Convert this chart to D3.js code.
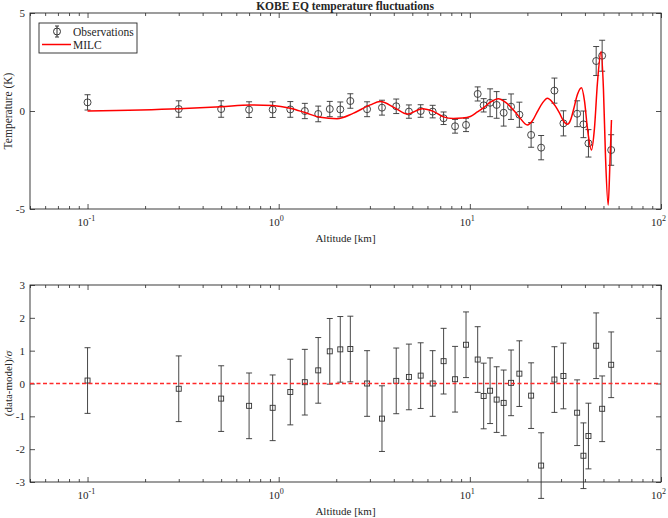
<!DOCTYPE html>
<html><head><meta charset="utf-8">
<script src="https://cdn.jsdelivr.net/npm/d3@7"></script>
<style>
body{margin:0;background:#fff}
svg{display:block}
text{font-family:"Liberation Serif","Times New Roman",serif;fill:#262626}
</style>
</head><body><svg id="c" width="668" height="518"></svg>
<script>
// ---- data ----
const altitudes = [0.1, 0.3, 0.5, 0.7, 0.93, 1.15, 1.37, 1.61, 1.85, 2.1, 2.37, 2.9, 3.47, 4.12, 4.8, 5.53, 6.39, 7.29, 8.37, 9.55, 10.99, 11.81, 12.76, 13.81, 15.03, 16.43, 18.16, 20.92, 23.6, 27.7, 30.87, 36.41, 39.29, 41.73, 45.8, 49.22, 54.87];
const temperature = [0.44, 0.10, 0.10, 0.07, 0.07, 0.08, 0.0, -0.15, 0.10, 0.08, 0.51, 0.09, 0.17, 0.24, -0.03, 0.0, -0.03, -0.37, -0.78, -0.71, 0.87, 0.29, 0.42, 0.31, -0.09, 0.22, -0.19, -1.22, -1.87, 1.04, -0.63, -0.14, -0.68, -1.65, 2.55, 2.82, -1.99];
const tempError = [0.39, 0.42, 0.42, 0.40, 0.40, 0.40, 0.39, 0.40, 0.39, 0.38, 0.37, 0.38, 0.38, 0.37, 0.34, 0.32, 0.32, 0.32, 0.35, 0.34, 0.36, 0.34, 0.71, 0.68, 0.68, 0.65, 0.64, 0.63, 0.62, 0.64, 0.64, 0.66, 0.68, 0.70, 0.74, 0.79, 0.78];
const residuals = [0.09, -0.16, -0.46, -0.68, -0.74, -0.26, 0.04, 0.40, 0.98, 1.04, 1.05, 0.0, -1.07, 0.08, 0.20, 0.24, 0.0, 0.68, 0.13, 1.18, 0.73, -0.38, -0.22, -0.49, -0.59, 0.02, 0.30, -0.37, -2.5, 0.12, 0.23, -0.89, -2.2, -1.6, 1.15, -0.77, 0.57];
const residualError = [1,1,1,1,1,1,1,1,1,1,1,1,1,1,1,1,1,1,1,1,1,1,1,1,1,1,1,1,1,1,1,1,1,1,1,1,1];
const modelAltitude = [0.1, 0.3, 0.5, 0.71, 0.93, 1.15, 1.37, 1.65, 2.02, 2.45, 3.01, 3.40, 4.07, 4.71, 5.64, 6.44, 7.27, 8.20, 9.14, 10.06, 10.95, 11.91, 12.80, 14.10, 15.34, 16.30, 17.95, 20.00, 21.25, 22.56, 23.96, 25.45, 27.04, 28.03, 29.42, 30.87, 32.39, 33.59, 34.83, 36.54, 38.35, 39.77, 41.23, 43.27, 44.85, 46.50, 48.63, 49.99, 51.22, 52.92, 54.08, 55.07];
const modelTemperature = [0.0, 0.12, 0.22, 0.31, 0.28, 0.14, -0.08, -0.32, -0.39, -0.12, 0.31, 0.48, 0.15, -0.15, 0.12, -0.02, -0.30, -0.38, -0.36, -0.28, -0.05, 0.20, 0.45, 0.63, 0.45, 0.22, -0.25, -0.71, -0.50, -0.03, 0.40, 0.65, 0.45, 0.25, -0.10, -0.50, -0.68, -0.48, 0.05, 0.84, 1.19, 0.53, -0.89, -1.99, -0.90, 1.43, 3.03, 1.12, -2.26, -4.80, -2.60, -0.46];
const xMajorTicks = [0.1, 1, 10, 100];
const xTickExponents = ["-1", "0", "1", "2"];
const yTopTicks = [-5, 0, 5];
const yBottomTicks = [-3, -2, -1, 0, 1, 2, 3];
const titleText = "KOBE EQ temperature fluctuations";
const xLabelText = "Altitude [km]";
const yTopLabelText = "Temperature (K)";
const legendLabels = ["Observations", "MILC"];

// ---- layout ----
const L = 30, R = 661;
const top1 = 13, bot1 = 209, top2 = 285, bot2 = 482;
const ink = "#262626", barCol = "#333";
const svg = d3.select("#c");

const x = d3.scaleLog().domain([0.05, 100]).range([L, R]);
const yT = d3.scaleLinear().domain([-5, 5]).range([bot1, top1]);
const yB = d3.scaleLinear().domain([-3, 3]).range([bot2, top2]);

const minorTicks = [];
[0.01, 0.1, 1, 10].forEach(p => { for (let d = 2; d <= 9; d++) { const v = d * p; if (v >= 0.05 && v < 100) minorTicks.push(+v.toPrecision(3)); } });

function frame(y, yTicks, yTop, yBot) {
  const g = svg.append("g");
  g.append("g").attr("transform", `translate(0,${yBot})`)
    .call(d3.axisBottom(x).tickValues(minorTicks).tickSize(-3).tickFormat(""));
  g.append("g").attr("transform", `translate(0,${yTop})`)
    .call(d3.axisTop(x).tickValues(minorTicks).tickSize(-3).tickFormat(""));
  const xb = g.append("g").attr("transform", `translate(0,${yBot})`)
    .call(d3.axisBottom(x).tickValues(xMajorTicks).tickSize(-5).tickFormat(""));
  xb.selectAll(".tick text").each(function(d, i) {
    const t = d3.select(this).attr("y", 9).attr("dy", "0.71em").attr("x", -10.5)
      .attr("text-anchor", "start").style("font-size", "11px");
    t.append("tspan").text("10");
    t.append("tspan").attr("dy", "-5").style("font-size", "8px").text(xTickExponents[i]);
  });
  g.append("g").attr("transform", `translate(0,${yTop})`)
    .call(d3.axisTop(x).tickValues(xMajorTicks).tickSize(-5).tickFormat(""));
  g.append("g").attr("transform", `translate(${L},0)`)
    .call(d3.axisLeft(y).tickValues(yTicks).tickSize(-5).tickPadding(5).tickFormat(d3.format("d")))
    .selectAll("text").style("font-size", "11px").text(d => String(d).replace("−", "-"));
  g.append("g").attr("transform", `translate(${R},0)`)
    .call(d3.axisRight(y).tickValues(yTicks).tickSize(-5).tickFormat(""));
  g.selectAll(".domain").remove();
  g.selectAll(".tick line").attr("stroke", ink).attr("stroke-width", 0.8);
  g.selectAll(".tick text").attr("fill", ink).style("font-family", '"Liberation Serif",serif');
  svg.append("rect").attr("x", L).attr("y", yTop).attr("width", R - L).attr("height", yBot - yTop)
    .attr("fill", "none").attr("stroke", ink).attr("stroke-width", 0.9);
  svg.append("text").attr("x", (L + R) / 2).attr("y", yBot + 33).attr("text-anchor", "middle")
    .style("font-size", "11px").text(xLabelText);
}

function errorbars(g, xs, ys, es, y) {
  const cap = 3;
  xs.forEach((a, i) => {
    const cx = x(a), y1 = y(ys[i] - es[i]), y2 = y(ys[i] + es[i]);
    g.append("line").attr("x1", cx).attr("x2", cx).attr("y1", y1).attr("y2", y2);
    g.append("line").attr("x1", cx - cap).attr("x2", cx + cap).attr("y1", y1).attr("y2", y1);
    g.append("line").attr("x1", cx - cap).attr("x2", cx + cap).attr("y1", y2).attr("y2", y2);
  });
  g.selectAll("line").attr("stroke", barCol).attr("stroke-width", 0.9);
}

// ---- top panel ----
frame(yT, yTopTicks, top1, bot1);
const gTop = svg.append("g");
errorbars(gTop.append("g"), altitudes, temperature, tempError, yT);
gTop.append("g").selectAll("circle").data(altitudes).join("circle")
  .attr("cx", d => x(d)).attr("cy", (d, i) => yT(temperature[i])).attr("r", 3.5)
  .attr("fill", "none").attr("stroke", barCol).attr("stroke-width", 0.9);
const modelData = modelAltitude.map((a, i) => [a, modelTemperature[i]]);
gTop.append("path").datum(modelData)
  .attr("d", d3.line().x(d => x(d[0])).y(d => yT(d[1])).curve(d3.curveMonotoneX))
  .attr("fill", "none").attr("stroke", "#ff0000").attr("stroke-width", 1.5);

svg.append("text").attr("x", 345).attr("y", 10).attr("text-anchor", "middle")
  .style("font-size", "11.5px").style("font-weight", "bold").attr("fill", "#000").text(titleText);
svg.append("text").attr("transform", `translate(12,${yT(0)}) rotate(-90)`).attr("text-anchor", "middle")
  .style("font-size", "11.5px").text(yTopLabelText);

// legend
const lg = svg.append("g");
lg.append("rect").attr("x", 39).attr("y", 23).attr("width", 98).attr("height", 30)
  .attr("fill", "#fff").attr("stroke", ink).attr("stroke-width", 0.9);
lg.append("line").attr("x1", 57).attr("x2", 57).attr("y1", 26).attr("y2", 37).attr("stroke", barCol);
lg.append("line").attr("x1", 55).attr("x2", 59).attr("y1", 26).attr("y2", 26).attr("stroke", barCol);
lg.append("line").attr("x1", 55).attr("x2", 59).attr("y1", 37).attr("y2", 37).attr("stroke", barCol);
lg.append("circle").attr("cx", 57).attr("cy", 31.5).attr("r", 3.5).attr("fill", "none").attr("stroke", barCol);
lg.append("text").attr("x", 73).attr("y", 35.5).style("font-size", "11.5px").text(legendLabels[0]);
lg.append("line").attr("x1", 42).attr("x2", 71).attr("y1", 44.5).attr("y2", 44.5).attr("stroke", "#ff0000").attr("stroke-width", 1.5);
lg.append("text").attr("x", 73).attr("y", 48.5).style("font-size", "11.5px").text(legendLabels[1]);

// ---- bottom panel ----
frame(yB, yBottomTicks, top2, bot2);
const gBot = svg.append("g");
errorbars(gBot.append("g"), altitudes, residuals, residualError, yB);
gBot.append("g").selectAll("rect").data(altitudes).join("rect")
  .attr("x", d => x(d) - 2.5).attr("y", (d, i) => yB(residuals[i]) - 2.5).attr("width", 5).attr("height", 5)
  .attr("fill", "none").attr("stroke", barCol).attr("stroke-width", 0.9);
svg.append("line").attr("x1", L).attr("x2", R).attr("y1", yB(0)).attr("y2", yB(0))
  .attr("stroke", "#ff2a2a").attr("stroke-width", 1.6).attr("stroke-dasharray", "4,2.5");
const yl = svg.append("text").attr("transform", `translate(12,${yB(0)}) rotate(-90)`).attr("text-anchor", "middle")
  .style("font-size", "11px");
yl.append("tspan").text("(data-model)/");
yl.append("tspan").style("font-style", "italic").text("σ");
</script></body></html>
